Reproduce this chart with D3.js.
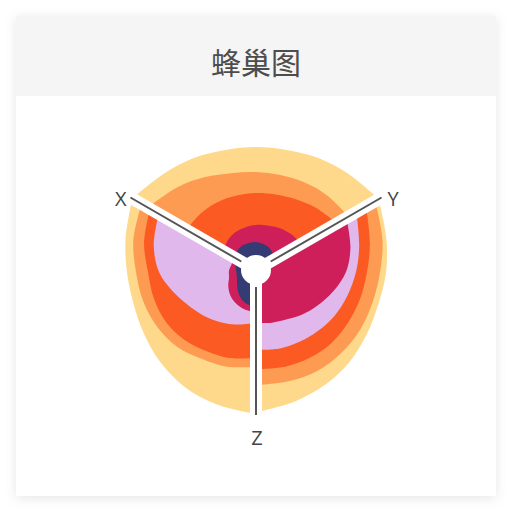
<!DOCTYPE html>
<html><head><meta charset="utf-8">
<script src="https://cdn.jsdelivr.net/npm/d3@7"></script>
<style>html,body{margin:0;padding:0;background:#fff;} svg{display:block;}</style>
</head><body>
<svg id="chart" width="512" height="512"></svg>
<script>
// ---- data ----
const chartTitle = "蜂巢图";
const axisNames = ["X", "Y", "Z"];
const axisAngles = [-60, 60, 180];           // degrees, clockwise from 12 o'clock
const sampleSteps = [0, 1, 2, 3, 4, 5, 6, 7, 8]; // 9 samples across each 120° sector
const levelColors = ["#FED98B", "#FE9B52", "#FB5A22", "#E0B8EC", "#CE1F5A", "#353B73"];
// radius samples per level: [sector X→Y, sector Y→Z, sector Z→X]
const level1 = [[141,133,128,124,123,124,128,133,140],[140,134,130,127,128,131,134,137,141],[143,140,137,133,129,127,129,134,141]];
const level2 = [[123,114,106,100,98,98,100,103,106],[136,130,124,121,120,119,118,116,115],[97,101,104,110,114,117,120,126,131]];
const level3 = [[80,79,78,77,77,78,81,86,92],[125,117,111,108,106,105,103,101,99],[88,92,95,100,104,106,108,115,121]];
const level4 = [[30,30,30,30,30,30,30,30,30],[114,106,100,95,91,87,84,82,80],[53,57,62,68,75,85,97,105,111]];
const level5 = [[38,41,43,44,45,46,48,50,52],[103,97,90,80,71,64,58,55,53],[42,41,39,36,32,28,27,25,25]];
const level6 = [[26,27,28,28,28,27,26,24,22],[10,10,10,10,10,10,10,10,10],[36,35,31,26,22,20,20,21,23]];
const levels = [level1, level2, level3, level4, level5, level6];

// ---- layout ----
const cx = 256, cy = 270, axisLen = 145;
const svg = d3.select("#chart");
const defs = svg.append("defs");
const f = defs.append("filter").attr("id","shadow").attr("x","-10%").attr("y","-10%").attr("width","120%").attr("height","120%");
f.append("feDropShadow").attr("dx",0).attr("dy",2).attr("stdDeviation",6).attr("flood-color","#000").attr("flood-opacity",0.10);

svg.append("rect").attr("x",16).attr("y",16).attr("width",480).attr("height",480).attr("fill","#fff").attr("filter","url(#shadow)");
svg.append("rect").attr("x",16).attr("y",16).attr("width",480).attr("height",80).attr("fill","#f5f5f5");
svg.append("text").attr("x",256).attr("y",74).attr("text-anchor","middle")
  .attr("font-family","'Noto Sans CJK SC', sans-serif").attr("font-size",30).attr("fill","#4d4d4d").text(chartTitle);

const rScale = d3.scaleLinear().domain([0, axisLen]).range([0, axisLen]);
const rad = d => d * Math.PI / 180;
const pad = rad(2.4);
const g = svg.append("g").attr("transform", `translate(${cx},${cy})`);

levels.forEach((lvl, li) => {
  lvl.forEach((radii, si) => {
    const a0 = rad(axisAngles[si]), a1 = rad(axisAngles[si] + 120);
    const aScale = d3.scaleLinear().domain(d3.extent(sampleSteps)).range([a0 + pad, a1 - pad]);
    const area = d3.areaRadial()
      .angle((d, i) => aScale(sampleSteps[i]))
      .innerRadius(0)
      .outerRadius(d => rScale(d))
      .curve(d3.curveCatmullRom);
    g.append("path").attr("d", area(radii)).attr("fill", levelColors[li]);
  });
});

const pt = (a, r) => [Math.sin(rad(a)) * r, -Math.cos(rad(a)) * r];
// white bands
axisAngles.forEach(a => {
  const [x2, y2] = pt(a, rScale(150));
  g.append("line").attr("x1",0).attr("y1",0).attr("x2",x2).attr("y2",y2)
    .attr("stroke","#fff").attr("stroke-width",12);
});
g.append("circle").attr("r",15).attr("fill","#fff");
// axis lines and labels
axisAngles.forEach((a, i) => {
  const [x1, y1] = pt(a, 17), [x2, y2] = pt(a, rScale(axisLen));
  g.append("line").attr("x1",x1).attr("y1",y1).attr("x2",x2).attr("y2",y2)
    .attr("stroke","#555").attr("stroke-width",2);
  const t = g.append("text").attr("font-family","'Open Sans', sans-serif").attr("font-size",20)
    .attr("fill","#444").attr("dominant-baseline","central").text(axisNames[i]);
  if (i === 0) t.attr("x", x2 - 4).attr("y", y2 + 1).attr("text-anchor","end");
  else if (i === 1) t.attr("x", x2 + 6).attr("y", y2 + 1).attr("text-anchor","start");
  else t.attr("x", x2 + 1).attr("y", y2 + 22).attr("text-anchor","middle");
});
</script>
</body></html>
